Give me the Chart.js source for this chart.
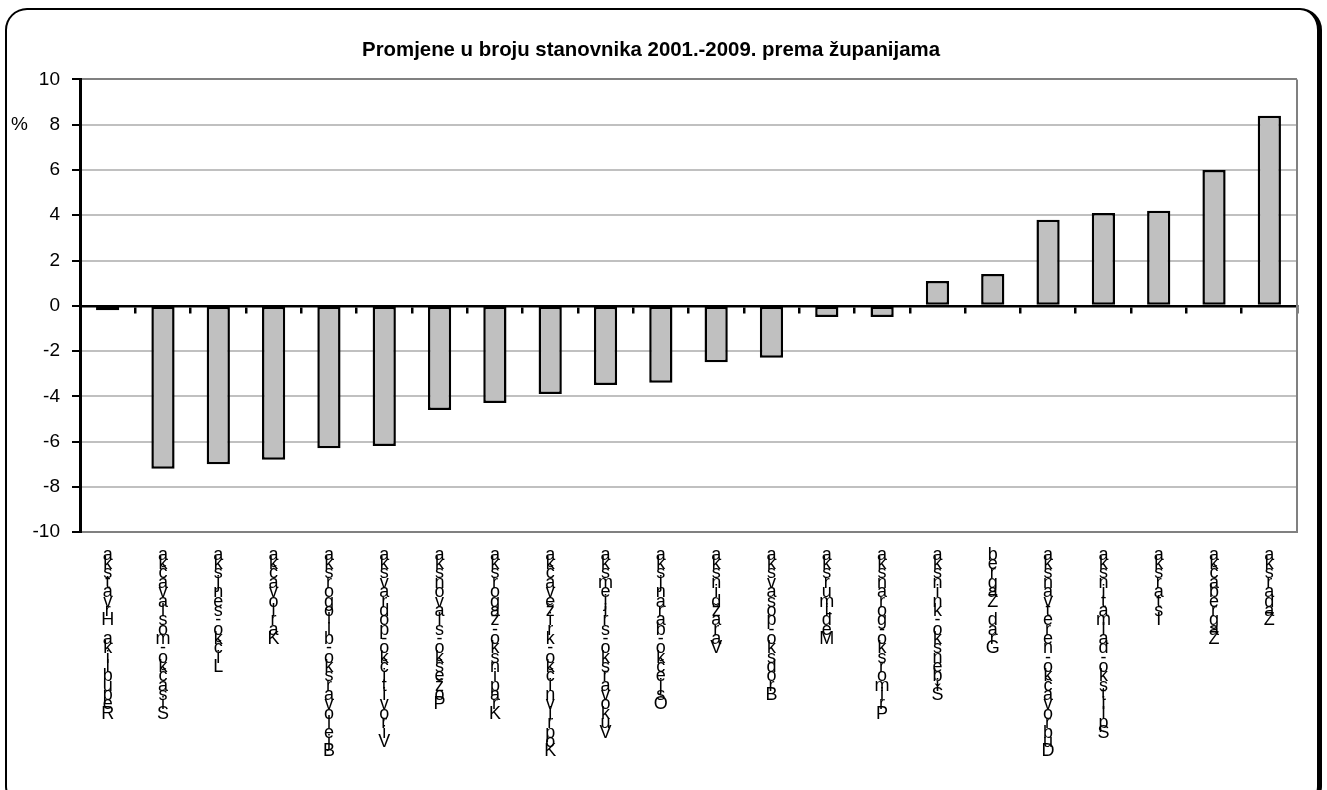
<!DOCTYPE html>
<html>
<head>
<meta charset="utf-8">
<script src="https://cdn.jsdelivr.net/npm/chart.js@4"></script>
<style>
  html, body { margin: 0; padding: 0; background: #fff; }
  #wrap { position: relative; width: 1327px; height: 790px; overflow: hidden; }
  #frame { position: absolute; left: 5px; top: 8px; width: 1317px; height: 800px;
           border: 2px solid #000; border-right-width: 5px; border-radius: 22px; box-sizing: border-box; }
  canvas { position: absolute; left: 0; top: 0; }
</style>
</head>
<body>
<div id="wrap">
  <div id="frame"></div>
  <canvas id="c" width="1327" height="790"></canvas>
</div>
<script>
const titleText = 'Promjene u broju stanovnika 2001.-2009. prema županijama';
const unitLabel = '%';
const counties = [
  'Republika Hrvatska', 'Sisačko-moslavačka', 'Ličko-senjska', 'Karlovačka',
  'Bjelovarsko-bilogorska', 'Virovitičko-podravska', 'Požeško-slavonska', 'Krapinsko-zagorska',
  'Koprivničko-križevačka', 'Vukovarsko-srijemska', 'Osječko-baranjska', 'Varaždinska',
  'Brodsko-posavska', 'Međimurska', 'Primorsko-goranska', 'Šibensko-kninska',
  'Grad Zagreb', 'Dubrovačko-neretvanska', 'Splitsko-dalmatinska', 'Istarska',
  'Zagrebačka', 'Zadarska'
];
const changePct = [
  -0.2, -7.2, -7.0, -6.8, -6.3, -6.2, -4.6, -4.3, -3.9, -3.5, -3.4, -2.5,
  -2.3, -0.5, -0.5, 1.1, 1.4, 3.8, 4.1, 4.2, 6.0, 8.4
];
const yTicks = [-10, -8, -6, -4, -2, 0, 2, 4, 6, 8, 10];

const FONT = "'Liberation Sans', Arial, sans-serif";

const plotFrame = {
  id: 'plotFrame',
  beforeDatasetsDraw(chart) {
    const { ctx, chartArea: a } = chart;
    ctx.save();
    ctx.strokeStyle = '#808080';
    ctx.lineWidth = 2;
    ctx.beginPath();
    ctx.moveTo(a.right, a.top);
    ctx.lineTo(a.right, a.bottom);
    ctx.stroke();
    ctx.restore();
  },
  afterDraw(chart) {
    const { ctx } = chart;
    const y = chart.scales.y.getPixelForValue(8);
    ctx.save();
    ctx.fillStyle = '#000';
    ctx.font = '19px ' + FONT;
    ctx.textAlign = 'left';
    ctx.textBaseline = 'middle';
    ctx.fillText(unitLabel, 11, y);
    ctx.restore();
  }
};

new Chart(document.getElementById('c'), {
  type: 'bar',
  data: {
    labels: counties,
    datasets: [{
      data: changePct,
      backgroundColor: '#c0c0c0',
      borderColor: '#000',
      borderWidth: 2.5,
      borderSkipped: false,
      barPercentage: 0.42,
      categoryPercentage: 1.0,
      xAxisID: 'x'
    }]
  },
  options: {
    responsive: false,
    animation: false,
    layout: { padding: { left: 5, right: 30, top: 0, bottom: 16 } },
    plugins: {
      legend: { display: false },
      tooltip: { enabled: false },
      title: {
        display: true,
        text: titleText,
        color: '#000',
        font: { family: FONT, size: 20.4, weight: 'bold' },
        padding: { top: 38, bottom: 17 }
      }
    },
    scales: {
      x: {
        type: 'category',
        position: 'bottom',
        offset: true,
        grid: { display: false, drawTicks: false },
        border: { display: true, color: '#808080', width: 2 },
        ticks: {
          autoSkip: false,
          maxRotation: 0,
          minRotation: 0,
          padding: 18,
          color: '#000',
          font: { family: FONT, size: 18, lineHeight: 0.52 },
          callback: function (value, index) {
            return Array.from(counties[index]).reverse();
          }
        }
      },
      x0: {
        type: 'category',
        axis: 'x',
        position: { y: 0 },
        offset: true,
        grid: { display: true, offset: true, drawOnChartArea: false, drawTicks: true, tickLength: 6, tickColor: '#000', lineWidth: 2.5 },
        border: { display: true, color: '#000', width: 2.5 },
        ticks: { display: false }
      },
      y: {
        min: -10,
        max: 10,
        afterBuildTicks: function (scale) { scale.ticks = yTicks.map(v => ({ value: v })); },
        afterFit: function (scale) { scale.width = 75; },
        grid: {
          color: ctx => (ctx.tick && (ctx.tick.value === 10)) ? '#808080' : '#c0c0c0',
          lineWidth: 2,
          tickColor: '#000',
          tickLength: 8
        },
        border: { display: true, color: '#000', width: 3 },
        ticks: {
          padding: 12,
          color: '#000',
          font: { family: FONT, size: 19 }
        }
      }
    }
  },
  plugins: [plotFrame]
});
</script>
</body>
</html>
